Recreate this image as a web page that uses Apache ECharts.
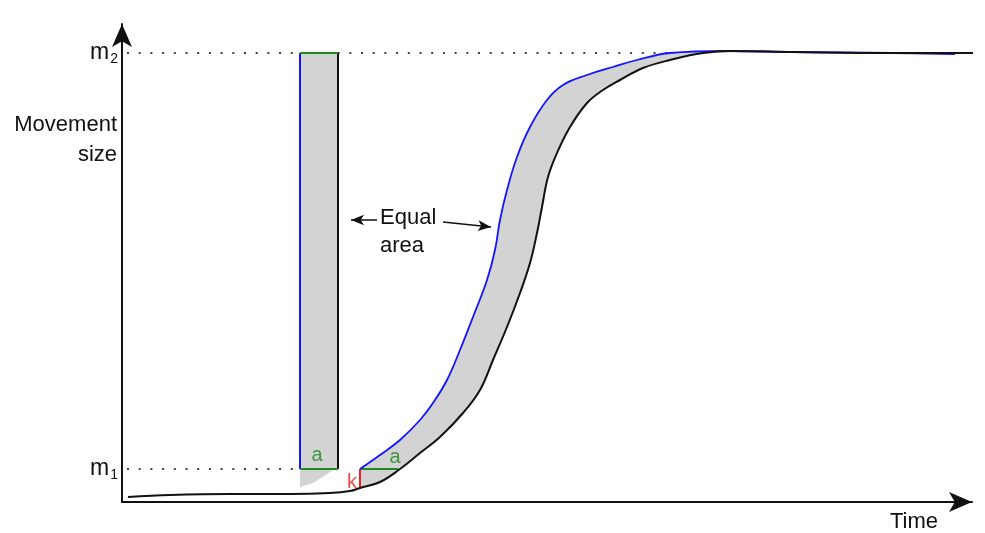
<!DOCTYPE html>
<html>
<head>
<meta charset="utf-8">
<script src="https://cdn.jsdelivr.net/npm/echarts@6/dist/echarts.min.js"></script>
<style>
  html, body { margin: 0; padding: 0; background: #fff; }
  #chart { width: 985px; height: 533px; }
</style>
</head>
<body>
<div id="chart"></div>
<script>
// time on x, movement size on y (m1 = 33, m2 = 449)
const levels = [33, 449];
const levelNames = ["1", "2"];

// actual movement (black) and idealised movement (blue)
const actualMove = [[6,5],[48,7],[108,8],[168,8],[208,9],[228,11],[238,14],[258,20],[278,33],[298,49],[318,65],[341,89],[358,112],[371,142],[385,175],[398,209],[408,239],[415,269],[420,295],[426,325],[435,349],[448,375],[465,399],[481,412],[498,422],[521,434],[548,442],[581,449],[611,451],[671,450],[771,449],[863,449]];
const idealMove = [[238,33],[258,47],[278,62],[298,82],[311,99],[325,122],[338,152],[351,185],[365,222],[373,252],[378,282],[385,312],[395,345],[408,375],[425,402],[441,417],[465,427],[491,435],[515,442],[548,449],[605,451],[671,450],[771,449],[833,448]];

// instantaneous step (left bar) and its leftover wedge
const stepBar = [[178,33],[216,33],[216,449],[178,449]];
const stepWedge = [[178,33],[178,15],[191,19],[201,25],[211,32],[216,33]];

const stepLeft = [[178,33],[178,449]];
const stepRight = [[216,33],[216,449]];
const aTop = [[178,449],[216,449]];
const aBottom = [[178,33],[216,33]];
const aShift = [[238,33],[276,33]];
const kGap = [[238,14],[238,33]];
const m1Dots = [[5,33],[178,33]];
const m2Dots = [[5,449],[548,449]];

const marks = [
  { name: "a", value: [195, 47], color: "#1a871a" },
  { name: "a", value: [273, 45], color: "#1a871a" },
  { name: "k", value: [230, 20], color: "#f01e1e" },
];
const arrowLeft = [[255,282],[229,282]];
const arrowRight = [[321,280],[369,275]];

const BLACK = "#111";
const BLUE = "#1414ff";
const GREEN = "#1e8c1e";
const FILL = "#d3d3d3";
const SMOOTH = 0.4;

function seg(data, color, width, dash) {
  return {
    type: "line",
    data: data,
    symbol: "none",
    silent: true,
    clip: false,
    lineStyle: { color: color, width: width, type: dash || "solid" },
    z: 4,
  };
}

function curve(data, stroke, width, area) {
  return {
    type: "line",
    data: data,
    symbol: "none",
    smooth: SMOOTH,
    silent: true,
    clip: false,
    lineStyle: { color: stroke, width: width },
    areaStyle: area ? { color: area, opacity: 1 } : undefined,
    z: area ? 1 : 5,
  };
}

function polys(list) {
  return {
    type: "custom",
    silent: true,
    z: 2,
    data: list.map((p, i) => i),
    renderItem: function (params, api) {
      return {
        type: "polygon",
        shape: { points: list[params.dataIndex].map((p) => api.coord(p)) },
        style: { fill: FILL },
      };
    },
  };
}

const chart = echarts.init(document.getElementById("chart"));
chart.setOption({
  animation: false,
  textStyle: { fontFamily: "Liberation Sans, Arial, sans-serif" },
  grid: { left: 122, right: 13, top: 24, bottom: 31 },
  xAxis: {
    type: "value",
    min: 0,
    max: 850,
    z: 10,
    axisLine: {
      symbol: ["none", "arrow"],
      symbolSize: [15, 23],
      lineStyle: { color: BLACK, width: 2 },
    },
    axisTick: { show: false },
    axisLabel: { show: false },
    splitLine: { show: false },
  },
  yAxis: {
    type: "value",
    min: 0,
    max: 478,
    z: 10,
    axisLine: {
      show: true,
      symbol: ["none", "arrow"],
      symbolSize: [15, 23],
      lineStyle: { color: BLACK, width: 2 },
    },
    axisTick: { show: false },
    splitLine: { show: false },
    axisLabel: {
      customValues: levels,
      margin: 4,
      formatter: (v) => "{m|m}{s|" + levelNames[levels.indexOf(v)] + "}",
      rich: {
        m: { fontSize: 23, color: BLACK },
        s: { fontSize: 14, color: BLACK, padding: [12, 0, 0, 1] },
      },
    },
  },
  graphic: [
    {
      type: "text",
      style: {
        text: "Movement\nsize", x: 117, y: 140, align: "right", verticalAlign: "middle",
        font: "22px Liberation Sans", lineHeight: 30, fill: BLACK,
      },
    },
    {
      type: "text",
      style: {
        text: "Equal\narea", x: 380, y: 232, align: "left", verticalAlign: "middle",
        font: "22px Liberation Sans", lineHeight: 28, fill: BLACK,
      },
    },
    {
      type: "text",
      style: {
        text: "Time", x: 890, y: 522, align: "left", verticalAlign: "middle",
        font: "22px Liberation Sans", fill: BLACK,
      },
    },
  ],
  series: [
    curve(idealMove, "transparent", 0, FILL),
    curve(actualMove, "transparent", 0, "#fff"),
    polys([stepBar, stepWedge]),
    seg(m1Dots, "#444", 2, [2, 9.7]),
    seg(m2Dots, "#444", 2, [2, 9.7]),
    curve(idealMove, BLUE, 1.8),
    curve(actualMove, BLACK, 2),
    seg(stepLeft, BLUE, 2),
    seg(stepRight, BLACK, 2),
    seg(aTop, GREEN, 2),
    seg(aBottom, GREEN, 2),
    seg(aShift, GREEN, 2),
    seg(kGap, "#f01e1e", 2),
    {
      type: "scatter",
      symbolSize: 0,
      silent: true,
      z: 6,
      data: marks.map((d) => ({
        name: d.name,
        value: d.value,
        label: { color: d.color },
      })),
      label: {
        show: true,
        position: "inside",
        formatter: "{b}",
        fontSize: 20,
      },
      markLine: {
        silent: true,
        symbol: ["none", "arrow"],
        symbolSize: [8, 13],
        label: { show: false },
        lineStyle: { color: BLACK, width: 1.5, type: "solid" },
        data: [
          [{ coord: arrowLeft[0] }, { coord: arrowLeft[1] }],
          [{ coord: arrowRight[0] }, { coord: arrowRight[1] }],
        ],
      },
    },
  ],
});
</script>
</body>
</html>
